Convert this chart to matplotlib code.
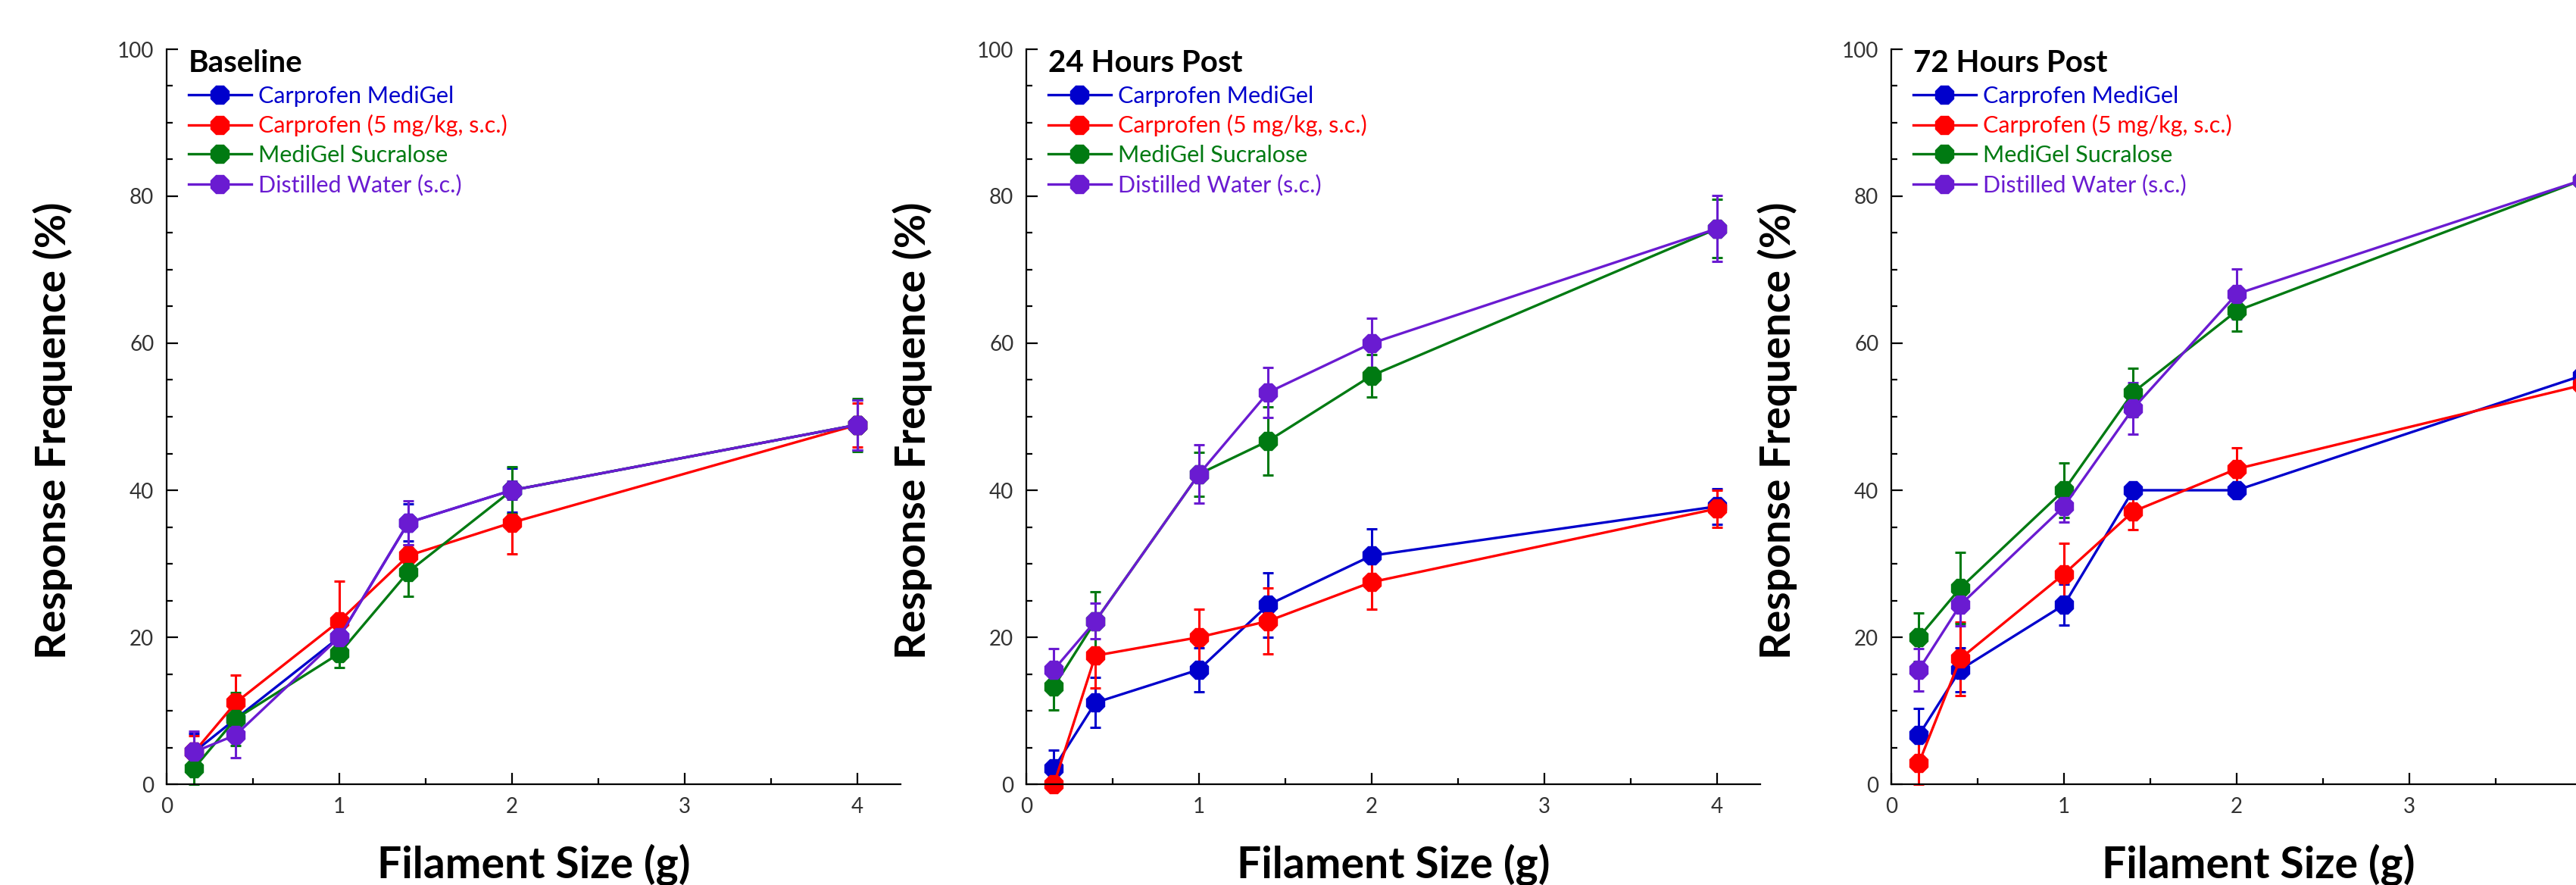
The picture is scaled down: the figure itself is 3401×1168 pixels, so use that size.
import matplotlib
matplotlib.use("Agg")
import matplotlib.pyplot as plt
from matplotlib.lines import Line2D
from matplotlib.ticker import MultipleLocator

plt.rcParams['font.family'] = ['Lato', 'DejaVu Sans']

filament = [0.16, 0.4, 1.0, 1.4, 2.0, 4.0]
series_names = ["Carprofen MediGel", "Carprofen (5 mg/kg, s.c.)",
                "MediGel Sucralose", "Distilled Water (s.c.)"]
colors = ["#0000CC", "#FF0000", "#007A12", "#6A1BD1"]
panel_titles = ["Baseline", "24 Hours Post", "72 Hours Post"]

# Baseline
base_blue = [4.4, 8.9, 20.0, 35.6, 40.0, 48.9]
base_red = [4.4, 11.1, 22.2, 31.1, 35.6, 48.9]
base_green = [2.2, 8.9, 17.8, 28.9, 40.0, 48.9]
base_purple = [4.4, 6.7, 20.0, 35.6, 40.0, 48.9]
base_blue_err = [2.5, 3.0, 1.9, 2.5, 3.0, 3.4]
base_red_err = [2.2, 3.7, 5.4, 1.5, 4.3, 3.0]
base_green_err = [2.2, 3.6, 1.9, 3.3, 3.2, 3.6]
base_purple_err = [2.8, 3.1, 1.2, 3.0, 1.2, 3.4]

# 24 hours post
h24_blue = [2.2, 11.1, 15.6, 24.4, 31.1, 37.8]
h24_red = [0.0, 17.5, 20.0, 22.2, 27.5, 37.5]
h24_green = [13.3, 22.2, 42.2, 46.7, 55.6, 75.6]
h24_purple = [15.6, 22.2, 42.2, 53.3, 60.0, 75.6]
h24_blue_err = [2.4, 3.4, 3.0, 4.4, 3.6, 2.4]
h24_red_err = [0.0, 4.4, 3.8, 4.5, 3.7, 2.5]
h24_green_err = [3.2, 4.0, 3.0, 4.6, 2.9, 4.0]
h24_purple_err = [2.9, 2.4, 4.0, 3.4, 3.4, 4.5]

# 72 hours post
h72_blue = [6.7, 15.6, 24.4, 40.0, 40.0, 55.6]
h72_red = [2.9, 17.1, 28.6, 37.1, 42.9, 54.3]
h72_green = [20.0, 26.7, 40.0, 53.3, 64.4, 82.2]
h72_purple = [15.6, 24.4, 37.8, 51.1, 66.7, 82.2]
h72_blue_err = [3.6, 3.0, 2.8, 0.0, 0.0, 2.5]
h72_red_err = [2.9, 5.0, 4.2, 2.5, 2.9, 2.5]
h72_green_err = [3.3, 4.8, 3.7, 3.3, 2.8, 3.0]
h72_purple_err = [2.9, 2.9, 2.1, 3.5, 3.4, 3.0]

panels = [
    ([base_blue, base_red, base_green, base_purple],
     [base_blue_err, base_red_err, base_green_err, base_purple_err]),
    ([h24_blue, h24_red, h24_green, h24_purple],
     [h24_blue_err, h24_red_err, h24_green_err, h24_purple_err]),
    ([h72_blue, h72_red, h72_green, h72_purple],
     [h72_blue_err, h72_red_err, h72_green_err, h72_purple_err]),
]

W, H = 3401, 1168
fig = plt.figure(figsize=(W / 100, H / 100), dpi=100)

lefts_px = [220, 1355, 2497]
ax_w_px = 969
top_px, bottom_px = 65, 1035

for i, (vals, errs) in enumerate(panels):
    ax = fig.add_axes([lefts_px[i] / W, (H - bottom_px) / H,
                       ax_w_px / W, (bottom_px - top_px) / H])
    for v, e, c in zip(vals, errs, colors):
        ax.errorbar(filament, v, yerr=e, color=c, ecolor=c, fmt='-8',
                    lw=2.4, ms=18, elinewidth=2.2, capsize=5, capthick=2.2,
                    clip_on=False)
    ax.set_xlim(0, 4.25)
    ax.set_ylim(0, 100)
    ax.xaxis.set_major_locator(MultipleLocator(1))
    ax.xaxis.set_minor_locator(MultipleLocator(0.5))
    ax.yaxis.set_major_locator(MultipleLocator(20))
    ax.yaxis.set_minor_locator(MultipleLocator(5))
    ax.tick_params(which='both', direction='in', width=1.6, colors='black',
                   labelcolor='#333333', labelsize=20)
    ax.tick_params(which='major', length=11, pad=12)
    ax.tick_params(which='minor', length=6)
    for s in ['top', 'right']:
        ax.spines[s].set_visible(False)
    for s in ['left', 'bottom']:
        ax.spines[s].set_linewidth(1.6)

    ax.set_ylabel("Response Frequence (%)", fontsize=40, fontweight='bold')
    ax.yaxis.label.set_verticalalignment('center')
    ax.yaxis.set_label_coords(-0.155, 0.481)
    ax.set_xlabel("Filament Size (g)", fontsize=41, fontweight='bold')
    ax.xaxis.label.set_verticalalignment('baseline')
    ax.xaxis.set_label_coords(0.5, -0.127)

    handles = [Line2D([], [], color=c, marker='8', ms=18, lw=2.4) for c in colors]
    leg = ax.legend(handles, series_names, loc='upper left',
                    bbox_to_anchor=(0.03, 1.0), frameon=False,
                    fontsize=22, handlelength=2.7, handletextpad=0.3,
                    labelspacing=0.35, borderpad=0, borderaxespad=0,
                    title=panel_titles[i], alignment='left',
                    title_fontproperties={'weight': 'bold', 'size': 29})
    for t, c in zip(leg.get_texts(), colors):
        t.set_color(c)

fig.savefig("out.png", dpi=100)
